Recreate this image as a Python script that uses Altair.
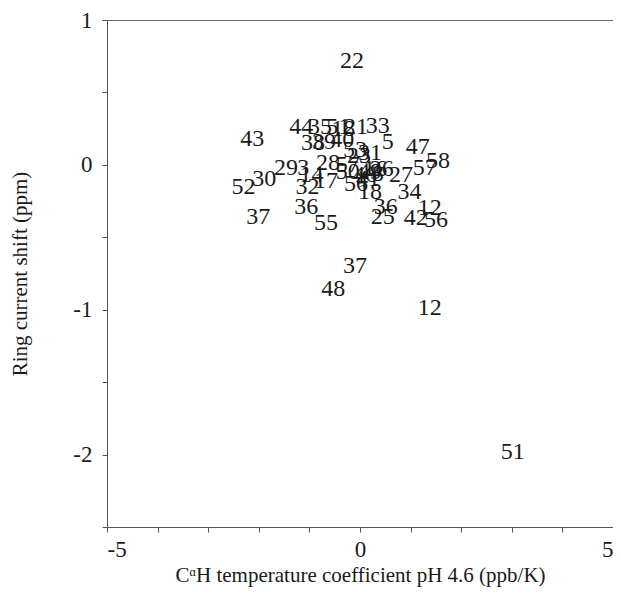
import altair as alt
import pandas as pd

labels = ["22", "43", "44", "35", "51", "18", "21", "33", "38", "39", "40", "53", "23", "31", "5",
          "47", "58", "57", "27", "26", "29", "3", "30", "52", "14", "32", "17", "28", "57", "50",
          "56", "46", "49", "41", "16", "8", "18", "34", "36", "36", "25", "12", "42", "56", "37",
          "55", "37", "48", "12", "51"]
temp_coef = [-0.16, -2.13, -1.16, -0.79, -0.43, -0.33, -0.08, 0.35, -0.93, -0.71, -0.35, -0.10, -0.02, 0.20, 0.55,
             1.14, 1.54, 1.28, 0.81, 0.43, -1.46, -1.12, -1.89, -2.30, -0.96, -1.04, -0.67, -0.63, -0.24, -0.24,
             -0.08, 0.10, 0.20, 0.16, 0.30, 0.35, 0.20, 0.98, -1.06, 0.51, 0.45, 1.38, 1.10, 1.50, -2.01,
             -0.67, -0.10, -0.53, 1.38, 3.02]
ring_shift = [0.72, 0.18, 0.26, 0.26, 0.26, 0.25, 0.26, 0.27, 0.15, 0.16, 0.17, 0.10, 0.06, 0.08, 0.16,
              0.12, 0.03, -0.02, -0.07, -0.03, -0.02, -0.02, -0.10, -0.15, -0.07, -0.15, -0.11, 0.01, 0.00, -0.05,
              -0.13, -0.07, -0.05, -0.10, -0.03, -0.06, -0.19, -0.19, -0.29, -0.29, -0.36, -0.30, -0.37, -0.38, -0.36,
              -0.40, -0.70, -0.86, -0.99, -1.98]

x_ticks = [-5, -4, -3, -2, -1, 0, 1, 2, 3, 4, 5]
y_ticks = [-2.5, -2, -1.5, -1, -0.5, 0, 0.5, 1]

df = pd.DataFrame({"label": labels, "x": temp_coef, "y": ring_shift})

FONT = "Liberation Serif"

chart = alt.Chart(df).mark_text(
    font=FONT, fontSize=24, color="#1a1a1a", align="center", baseline="middle"
).encode(
    x=alt.X("x:Q", scale=alt.Scale(domain=[-5, 5], nice=False, zero=False),
            axis=alt.Axis(values=x_ticks, grid=False,
                          labelExpr="datum.value % 5 == 0 ? datum.value : ''",
                          title="CᵅH temperature coefficient pH 4.6 (ppb/K)",
                          tickSize=5, labelPadding=6, titlePadding=3)),
    y=alt.Y("y:Q", scale=alt.Scale(domain=[-2.5, 1], nice=False, zero=False),
            axis=alt.Axis(values=y_ticks, grid=False,
                          labelExpr="datum.value % 1 == 0 ? datum.value : ''",
                          title="Ring current shift (ppm)",
                          tickSize=5, labelPadding=10, titlePadding=42)),
    text="label:N",
).properties(
    width=506, height=507,
    autosize=alt.AutoSizeParams(type="none"),
    padding={"left": 99, "top": 12, "right": 0, "bottom": 64},
).configure_view(
    stroke="#666666", strokeWidth=1
).configure_axis(
    labelFont=FONT, labelFontSize=23, labelColor="#1a1a1a",
    titleFont=FONT, titleFontSize=21, titleFontWeight="normal", titleColor="#1a1a1a",
    domainColor="#555555", tickColor="#555555", labelAngle=0
)

chart.save("out.html", embed_options={"renderer": "svg", "actions": False})
